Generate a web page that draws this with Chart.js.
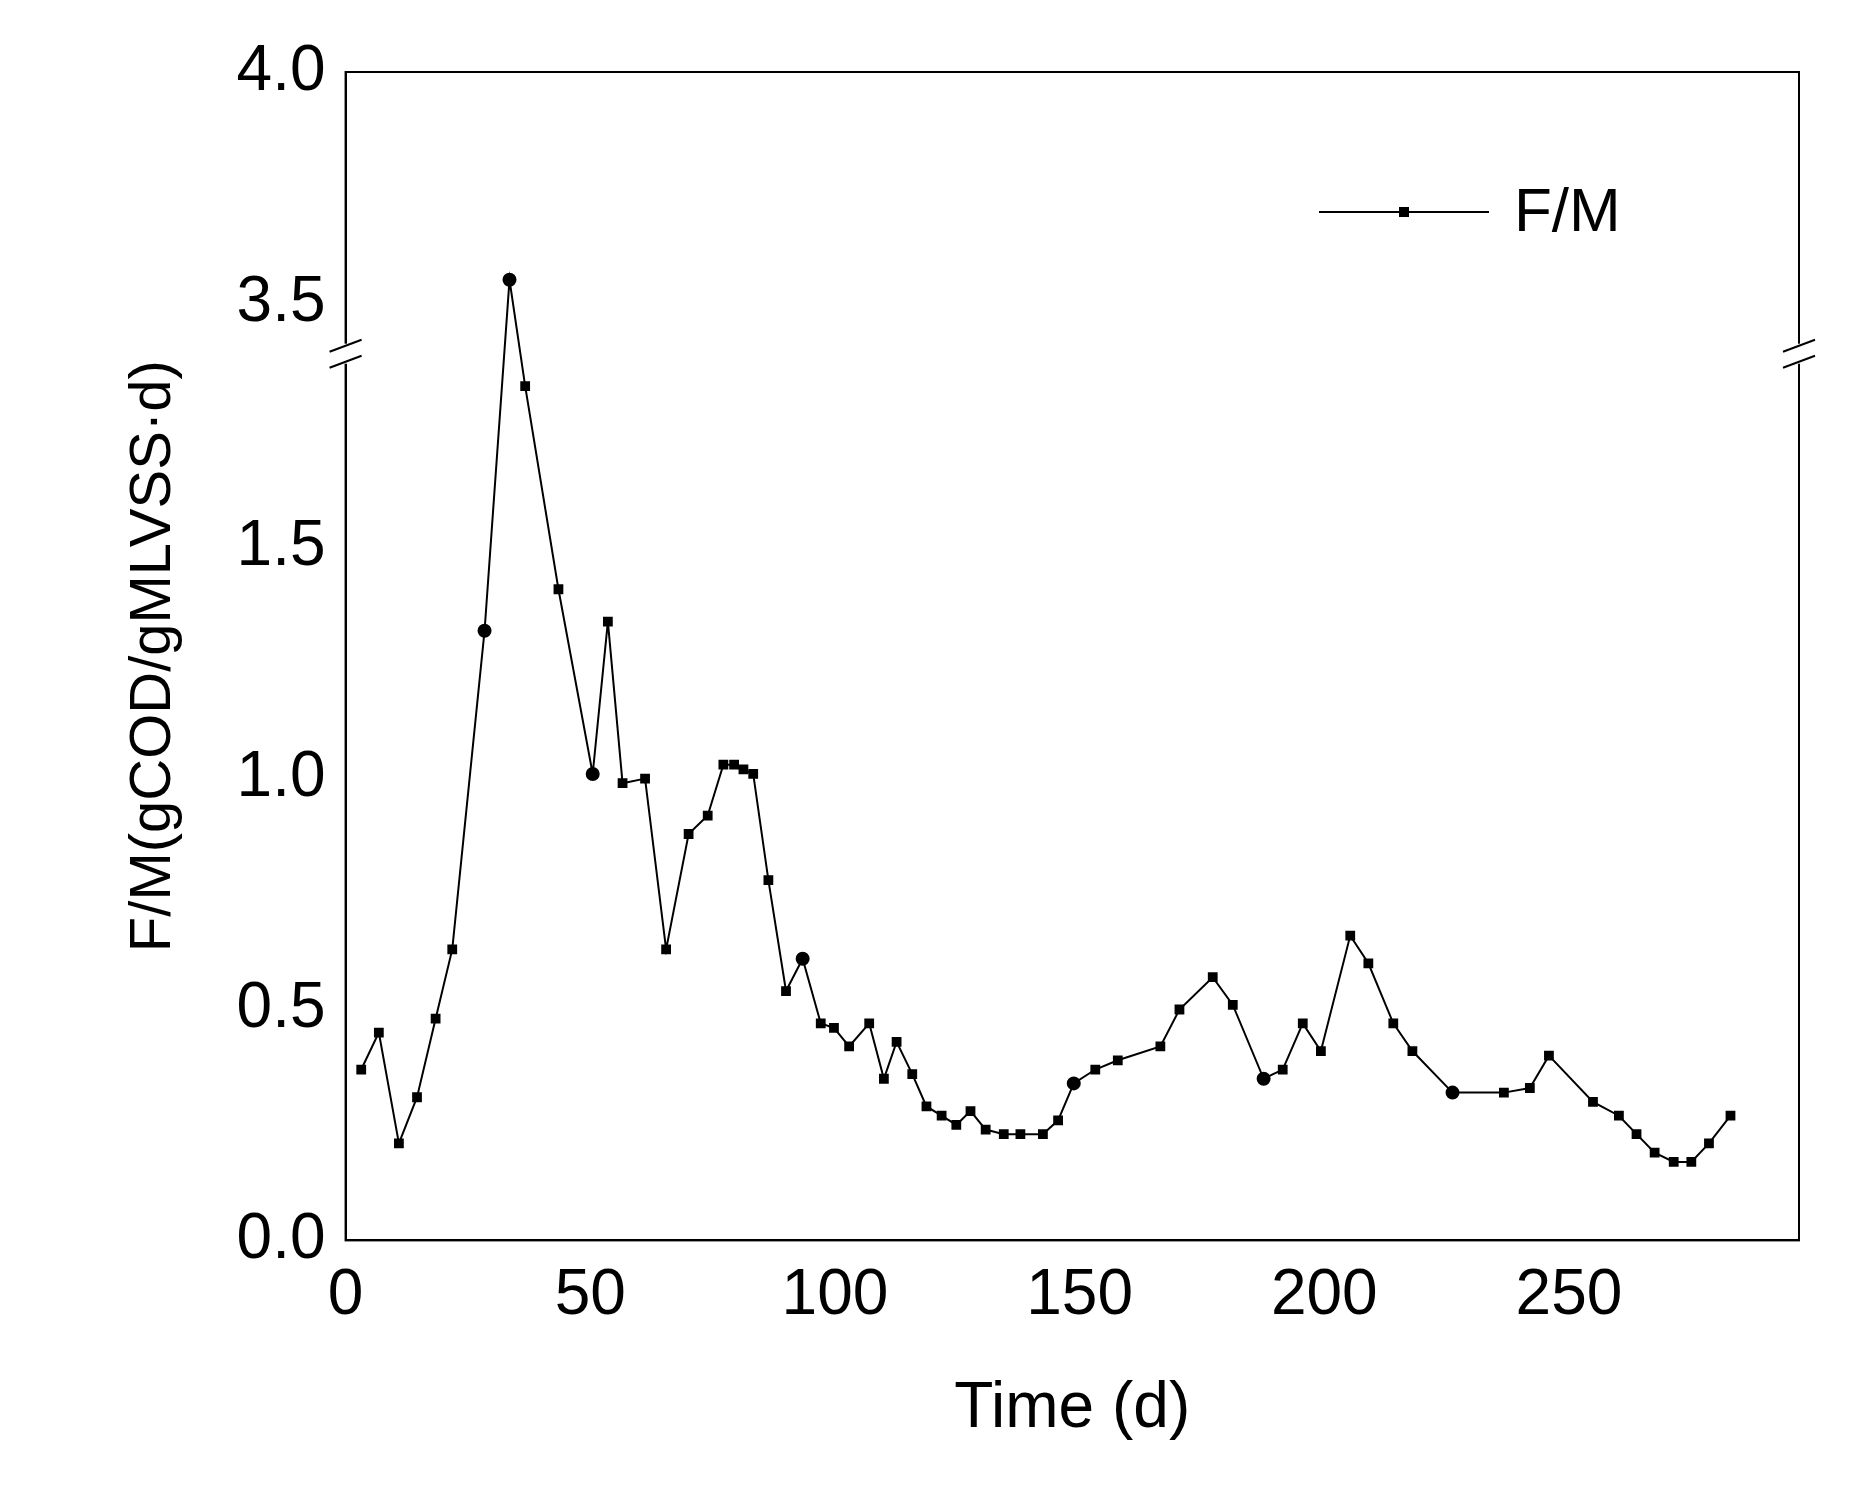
<!DOCTYPE html>
<html>
<head>
<meta charset="utf-8">
<script src="https://cdn.jsdelivr.net/npm/chart.js@4/dist/chart.umd.min.js"></script>
<style>
  html, body { margin: 0; padding: 0; background: #fff; }
  #wrap { width: 1864px; height: 1512px; }
</style>
</head>
<body>
<div id="wrap"><canvas id="chartCanvas" width="1864" height="1512"></canvas></div>
<script>
// Time (d)
const days = [3.2, 6.8, 10.9, 14.6, 18.4, 21.8, 28.4, 33.5, 36.7, 43.5, 50.5, 53.6, 56.6, 61.2, 65.5,
  70.1, 74.0, 77.2, 79.4, 81.3, 83.3, 86.4, 90.0, 93.4, 97.1, 99.8, 102.9, 107.0, 110.0, 112.6,
  115.8, 118.7, 121.8, 124.8, 127.7, 130.8, 134.5, 137.9, 142.5, 145.6, 148.8, 153.2, 157.8, 166.5,
  170.4, 177.2, 181.3, 187.6, 191.5, 195.6, 199.3, 205.3, 209.0, 214.1, 218.0, 226.2, 236.7, 242.0,
  245.9, 254.9, 260.2, 263.8, 267.5, 271.4, 275.0, 278.6, 283.0];
// F/M (gCOD/gMLVSS·d)
const fm = [0.37, 0.45, 0.21, 0.31, 0.48, 0.63, 1.32, 3.55, 1.85, 1.41, 1.01, 1.34, 0.99, 1.00, 0.63,
  0.88, 0.92, 1.03, 1.03, 1.02, 1.01, 0.78, 0.54, 0.61, 0.47, 0.46, 0.42, 0.47, 0.35, 0.43,
  0.36, 0.29, 0.27, 0.25, 0.28, 0.24, 0.23, 0.23, 0.23, 0.26, 0.34, 0.37, 0.39, 0.42,
  0.50, 0.57, 0.51, 0.35, 0.37, 0.47, 0.41, 0.66, 0.60, 0.47, 0.41, 0.32, 0.32, 0.33,
  0.40, 0.30, 0.27, 0.23, 0.19, 0.17, 0.17, 0.21, 0.27];
const circleDays = [28.4, 33.5, 50.5, 93.4, 148.8, 187.6, 226.2];
const xTicks = [0, 50, 100, 150, 200, 250];
const yTickLabels = [0, 0.5, 1.0, 1.5, 3.5, 4.0];

// broken y axis: 0–1.9 then 3.37–4.0
const breakLow = 1.9, breakHigh = 3.37, gap = breakHigh - breakLow;
const toAxis = (v) => (v > breakLow ? v - gap : v);
const fromAxis = (v) => (v > breakLow + 0.001 ? v + gap : v);

const FONT = "'Liberation Sans', Arial, sans-serif";

const framePlugin = {
  id: "frame",
  afterDraw: (chart) => {
    const { ctx, chartArea: a } = chart;
    const yb = chart.scales.y.getPixelForValue(breakLow + 0.02);
    ctx.save();
    ctx.strokeStyle = "#000";
    ctx.lineWidth = 2;
    ctx.strokeRect(a.left, a.top, a.right - a.left, a.bottom - a.top);
    // break marks
    [a.left, a.right].forEach((x) => {
      ctx.fillStyle = "#fff";
      ctx.fillRect(x - 3, yb - 10, 6, 20);
      ctx.beginPath();
      ctx.moveTo(x - 16, yb - 2); ctx.lineTo(x + 16, yb - 14);
      ctx.moveTo(x - 16, yb + 14); ctx.lineTo(x + 16, yb + 2);
      ctx.stroke();
    });
    // legend
    const lx = a.right - 480, ly = a.top + 140;
    ctx.beginPath();
    ctx.moveTo(lx, ly); ctx.lineTo(lx + 170, ly);
    ctx.stroke();
    ctx.fillStyle = "#000";
    ctx.fillRect(lx + 85 - 5, ly - 5, 10, 10);
    ctx.font = "62px " + FONT;
    ctx.textBaseline = "middle";
    ctx.fillText("F/M", lx + 195, ly + 2);
    ctx.restore();
  },
};

const ctx = document.getElementById("chartCanvas").getContext("2d");
new Chart(ctx, {
  type: "line",
  data: {
    datasets: [{
      label: "F/M",
      data: days.map((d, i) => ({ x: d, y: toAxis(fm[i]) })),
      borderColor: "#000",
      borderWidth: 2,
      backgroundColor: "#000",
      pointStyle: days.map((d) => (circleDays.includes(d) ? "circle" : "rect")),
      pointRadius: days.map((d) => (circleDays.includes(d) ? 6 : 5.5)),
      tension: 0,
    }],
  },
  options: {
    responsive: false,
    animation: false,
    layout: { padding: { left: 115, right: 65, top: 72, bottom: 60 } },
    plugins: { legend: { display: false }, tooltip: { enabled: false } },
    scales: {
      x: {
        type: "linear", min: 0, max: 297,
        afterBuildTicks: (s) => { s.ticks = xTicks.map((v) => ({ value: v })); },
        grid: { display: false, drawTicks: true, tickLength: 12, tickColor: "#000" },
        border: { color: "#000", width: 2 },
        ticks: { color: "#000", font: { size: 64, family: FONT }, padding: 6, maxRotation: 0 },
        title: { display: true, text: "Time (d)", color: "#000", font: { size: 64, family: FONT }, padding: { top: 30 } },
      },
      y: {
        type: "linear", min: 0, max: toAxis(4.0),
        afterBuildTicks: (s) => { s.ticks = yTickLabels.map((v) => ({ value: toAxis(v) })); },
        grid: { display: false, drawTicks: true, tickLength: 12, tickColor: "#000" },
        border: { color: "#000", width: 2 },
        ticks: {
          color: "#000", font: { size: 64, family: FONT }, padding: 8,
          callback: (v) => fromAxis(v).toFixed(1),
        },
        title: { display: true, text: "F/M(gCOD/gMLVSS·d)", color: "#000", font: { size: 58, family: FONT }, padding: { bottom: 40 } },
      },
    },
  },
  plugins: [framePlugin],
});
</script>
</body>
</html>
